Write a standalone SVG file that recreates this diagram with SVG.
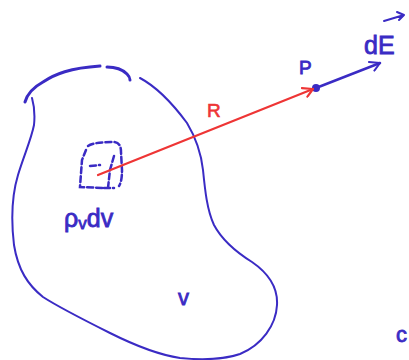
<svg xmlns="http://www.w3.org/2000/svg" width="409" height="360" viewBox="0 0 409 360">
<style>
.blue{fill:none;stroke:#3a2bc4;stroke-linecap:round;stroke-linejoin:round}
.lbl{font-family:"Liberation Sans",Arial,sans-serif;fill:#3a2bc4;stroke:#3a2bc4;stroke-width:0.8}
.red{fill:none;stroke:#ee3535;stroke-width:2.2;stroke-linecap:round}
.dash{fill:none;stroke:#3a2bc4;stroke-width:2.5;stroke-dasharray:6 3;stroke-linecap:round}
</style>
<defs>
<marker id="ahRed" viewBox="0 0 12 12" refX="11" refY="6" markerWidth="12" markerHeight="12" markerUnits="userSpaceOnUse" orient="auto">
<path d="M1,1 L11,6 L3,11" fill="none" stroke="#ee3535" stroke-width="2.2" stroke-linecap="round" stroke-linejoin="round"/>
</marker>
<marker id="ahBlue" viewBox="0 0 12 12" refX="11" refY="6" markerWidth="12" markerHeight="12" markerUnits="userSpaceOnUse" orient="auto">
<path d="M1,1 L11,6 L3,11" fill="none" stroke="#3a2bc4" stroke-width="2" stroke-linecap="round" stroke-linejoin="round"/>
</marker>
</defs>
<rect width="409" height="360" fill="#ffffff"/>
<g id="volume">
<path class="blue" stroke-width="3" d="M25,102 C27,95 32,88 43,82 C55,74 70,68 100,66"/>
<path class="blue" stroke-width="3" d="M107,67 C115,67 122,69 127,74 C129,76 130,78 130,80"/>
<path class="blue" stroke-width="2" d="M140,78 C155,86 170,100 187,123 C196,138 201,152 203,170 C205,190 207,210 214,225 C222,240 236,252 252,262 C268,273 278,288 277,305 C276,325 262,345 240,354 C222,360 200,360 180,358 C160,355 140,348 110,333 C88,322 60,308 43,297 C28,285 18,270 14,245 C11,220 12,195 18,175 C24,155 31,140 34,125 C35,115 34,105 32,98"/>
<text class="lbl" x="178" y="305" font-size="22">v</text>
</g>
<g id="element">
<path class="dash" d="M88,146 C92,143 102,142 113,142 C119,142 121,146 121,152 L122,170 C122,178 121,183 119,186"/>
<path class="dash" d="M86,150 L82,160 L80,187 L104,188"/>
<path class="dash" d="M90,166 L100,165 M114,156 L110,170 L108,188 M104,188 L114,188"/>
<text class="lbl" x="64" y="227" font-size="25">ρ<tspan font-size="17" dy="2">v</tspan><tspan dy="-2">dv</tspan></text>
</g>
<g id="pointP">
<circle cx="316" cy="88" r="4" fill="#3a2bc4"/>
<text class="lbl" x="299" y="74" font-size="19">P</text>
</g>
<g id="dE">
<text class="lbl" x="364" y="54" font-size="25">dE</text>
<path class="blue" stroke-width="2" d="M384,21 L404,15 M397,12 L404,15 L399,20"/>
</g>
<g id="edge-c">
<text class="lbl" x="396" y="342" font-size="22">c</text>
</g>
<g id="connectors">
<line class="red" x1="98" y1="175" x2="313" y2="89" marker-end="url(#ahRed)"/>
<text x="207" y="117" font-family="Liberation Sans,Arial,sans-serif" font-size="19" fill="#ee3535" stroke="#ee3535" stroke-width="0.6">R</text>
<line class="blue" stroke-width="2.5" x1="316" y1="88" x2="380" y2="63" marker-end="url(#ahBlue)"/>
</g>
</svg>
